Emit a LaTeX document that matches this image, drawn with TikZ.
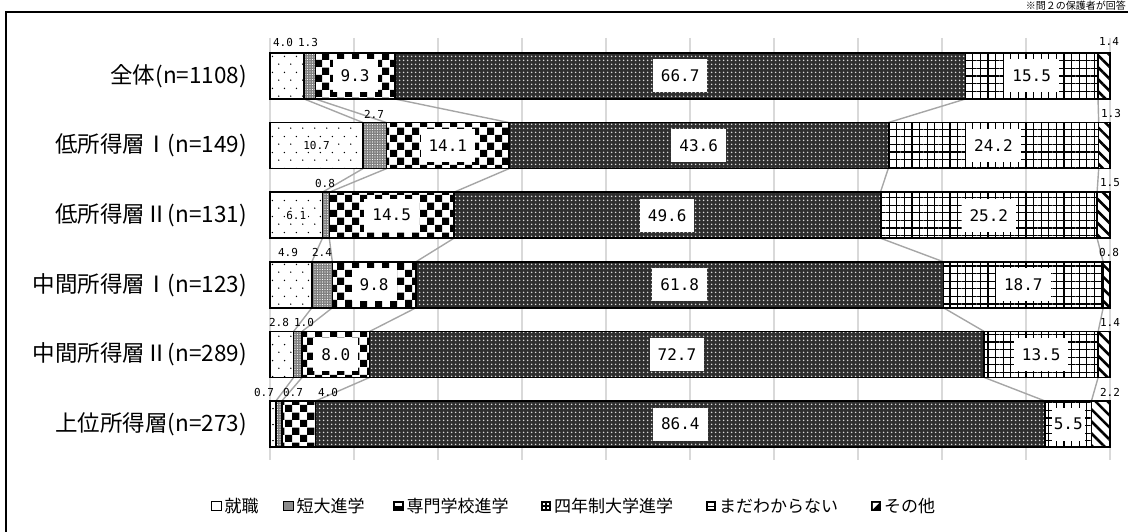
\documentclass[tikz,border=0pt]{standalone}
\usepackage{fontspec}
\setmainfont{Noto Sans CJK JP}
\newfontfamily\numfont{DejaVu Sans Mono}
\usetikzlibrary{patterns.meta,calc}

\tikzdeclarepattern{name=sparsedots, type=uncolored,
  bounding box={(0pt,0pt) and (12pt,16pt)}, tile size={(12pt,16pt)},
  code={\pgfpathcircle{\pgfqpoint{3pt}{4pt}}{0.8pt}\pgfpathcircle{\pgfqpoint{9pt}{12pt}}{0.8pt}\pgfusepath{fill}}}
\tikzdeclarepattern{name=bigchecker, type=uncolored,
  bounding box={(0pt,0pt) and (15pt,15pt)}, tile size={(15pt,15pt)},
  code={\pgfpathrectangle{\pgfqpoint{0pt}{0pt}}{\pgfqpoint{7.5pt}{7.5pt}}\pgfpathrectangle{\pgfqpoint{7.5pt}{7.5pt}}{\pgfqpoint{7.5pt}{7.5pt}}\pgfusepath{fill}}}

\definecolor{gridgray}{HTML}{D9D9D9}
\definecolor{linegray}{HTML}{A6A6A6}

\def\rowdata{0/{全体(n=1108)}/4.0/1.3/9.3/66.7/15.5/1.4,
 1/{低所得層Ⅰ(n=149)}/10.7/2.7/14.1/43.6/24.2/1.3,
 2/{低所得層Ⅱ(n=131)}/6.1/0.8/14.5/49.6/25.2/1.5,
 3/{中間所得層Ⅰ(n=123)}/4.9/2.4/9.8/61.8/18.7/0.8,
 4/{中間所得層Ⅱ(n=289)}/2.8/1.0/8.0/72.7/13.5/1.4,
 5/{上位所得層(n=273)}/0.7/0.7/4.0/86.4/5.5/2.2}

\tikzset{
  seg/.style={draw=black, line width=1.5pt},
  pA/.style={seg, preaction={fill=white}, pattern=sparsedots, pattern color=black},
  pB/.style={seg, preaction={fill=black!50}, pattern={Dots[distance=2.5pt,radius=0.55pt]}, pattern color=white},
  pC/.style={seg, preaction={fill=white}, pattern=bigchecker, pattern color=black},
  pD/.style={seg, preaction={fill=black!82}, pattern={Dots[distance=4pt,radius=1pt]}, pattern color=white!85!black},
  pE/.style={seg, preaction={fill=white}, pattern={Hatch[distance=7.6pt,line width=1.3pt]}, pattern color=black},
  pF/.style={seg, preaction={fill=white}, pattern={Lines[angle=-45,distance=8.5pt,line width=2.6pt]}, pattern color=black},
  gridline/.style={draw=gridgray, line width=1.5pt},
  series/.style={draw=linegray, line width=1.4pt},
  cat/.style={anchor=east, inner sep=0pt, font=\fontsize{22.5}{22.5}\selectfont},
  vin/.style={fill=white, inner xsep=8pt, inner ysep=0pt, minimum height=33pt, font=\numfont\fontsize{16}{16}\selectfont},
  vsm/.style={fill=white, inner sep=1.5pt, font=\numfont\fontsize{11}{11}\selectfont},
  vout/.style={inner sep=0pt, font=\numfont\fontsize{11}{11}\selectfont},
  legicon/.style={minimum size=9.5pt, inner sep=0pt, draw=black, line width=1.2pt},
  legtext/.style={anchor=west, inner sep=0pt, font=\fontsize{17}{17}\selectfont},
}

\begin{document}
\begin{tikzpicture}[x=1pt,y=-1pt]
\useasboundingbox (0,0) rectangle (1128,532);
\clip (0,0) rectangle (1128,532);

% outer frame (partly cut off)
\draw[line width=2pt] (1140,12) -- (6,12) -- (6,545);
\node[anchor=north east, inner sep=0pt, font=\fontsize{10}{10}\selectfont] (note) at (1126,0.8) {※問２の保護者が回答};

% gridlines
\foreach \i in {0,...,10} \draw[gridline] (270+84*\i,38) -- (270+84*\i,460);

% coordinates of segment boundaries and category labels
\foreach \rr/\lab/\va/\vb/\vc/\vd/\ve/\vf in \rowdata {
  \pgfmathsetmacro\T{\va+\vb+\vc+\vd+\ve+\vf}
  \pgfmathsetmacro\yt{53+69.6*\rr}
  \pgfmathsetmacro\yb{\yt+46}
  \pgfmathsetmacro\xa{270+(\va)/\T*840}
  \pgfmathsetmacro\xb{270+(\va+\vb)/\T*840}
  \pgfmathsetmacro\xc{270+(\va+\vb+\vc)/\T*840}
  \pgfmathsetmacro\xd{270+(\va+\vb+\vc+\vd)/\T*840}
  \pgfmathsetmacro\xe{270+(\va+\vb+\vc+\vd+\ve)/\T*840}
  \foreach \k/\xx in {0/270,1/\xa,2/\xb,3/\xc,4/\xd,5/\xe,6/1110}{
    \coordinate (r\rr t\k) at (\xx,\yt);
    \coordinate (r\rr b\k) at (\xx,\yb);
  }
  \node[cat] (cat\rr) at (247,\yt+23) {\lab};
}

% series lines
\foreach \rr in {0,...,4}{
  \pgfmathtruncatemacro\ss{\rr+1}
  \foreach \k in {1,...,5}{\draw[series] (r\rr b\k) -- (r\ss t\k);}
}

% bars
\foreach \rr in {0,...,5}{
  \foreach \j/\k/\p in {0/1/pA,1/2/pB,2/3/pC,3/4/pD,4/5/pE,5/6/pF}{
    \draw[\p] (r\rr t\j) rectangle (r\rr b\k);
  }
}

% inside labels
\node[vin] (v0c) at ($(r0t2)!0.5!(r0b3)$) {9.3};
\node[vin] (v0d) at ($(r0t3)!0.5!(r0b4)$) {66.7};
\node[vin] (v0e) at ($(r0t4)!0.5!(r0b5)$) {15.5};
\node[vsm] (v1a) at ($(r1t0)!0.5!(r1b1)$) {10.7};
\node[vin] (v1c) at ($(r1t2)!0.5!(r1b3)$) {14.1};
\node[vin] (v1d) at ($(r1t3)!0.5!(r1b4)$) {43.6};
\node[vin] (v1e) at ($(r1t4)!0.5!(r1b5)$) {24.2};
\node[vsm] (v2a) at ($(r2t0)!0.5!(r2b1)$) {6.1};
\node[vin] (v2c) at ($(r2t2)!0.5!(r2b3)$) {14.5};
\node[vin] (v2d) at ($(r2t3)!0.5!(r2b4)$) {49.6};
\node[vin] (v2e) at ($(r2t4)!0.5!(r2b5)$) {25.2};
\node[vin] (v3c) at ($(r3t2)!0.5!(r3b3)$) {9.8};
\node[vin] (v3d) at ($(r3t3)!0.5!(r3b4)$) {61.8};
\node[vin] (v3e) at ($(r3t4)!0.5!(r3b5)$) {18.7};
\node[vin] (v4c) at ($(r4t2)!0.5!(r4b3)$) {8.0};
\node[vin] (v4d) at ($(r4t3)!0.5!(r4b4)$) {72.7};
\node[vin] (v4e) at ($(r4t4)!0.5!(r4b5)$) {13.5};
\node[vin] (v5d) at ($(r5t3)!0.5!(r5b4)$) {86.4};
\node[vin, inner xsep=2pt] (v5e) at ($(r5t4)!0.5!(r5b5)$) {5.5};

% labels above bars
\node[vout] (v0a) at (283,42) {4.0};
\node[vout] (v0b) at (308,42) {1.3};
\node[vout] (v0f) at (1109,41) {1.4};
\node[vout] (v1b) at (374,114) {2.7};
\node[vout] (v1f) at (1111,113) {1.3};
\node[vout] (v2b) at (325,183) {0.8};
\node[vout] (v2f) at (1110,183) {1.5};
\node[vout] (v3a) at (288,252) {4.9};
\node[vout] (v3b) at (322,252) {2.4};
\node[vout] (v3f) at (1109,252) {0.8};
\node[vout] (v4a) at (279,322) {2.8};
\node[vout] (v4b) at (304,322) {1.0};
\node[vout] (v4f) at (1110,322) {1.4};
\node[vout] (v5a) at (264,392) {0.7};
\node[vout] (v5b) at (293,392) {0.7};
\node[vout] (v5c) at (328,392) {4.0};
\node[vout] (v5f) at (1110,392) {2.2};

% legend
\node[legicon, fill=white] (k1) at (216.5,506) {};
\node[legtext] (t1) at ($(k1.east)+(2.5,0)$) {就職};
\node[legicon, fill=black!45] (k2) at (288.5,506) {};
\node[legtext] (t2) at ($(k2.east)+(2.5,0)$) {短大進学};
\node[legicon, fill=black] (k3) at (398.5,506) {};
\fill[white] ($(k3.north west)+(2.2,2.2)$) rectangle ($(k3.east)+(-2.2,0)$);
\node[legtext] (t3) at ($(k3.east)+(2.5,0)$) {専門学校進学};
\node[legicon, fill=black] (k4) at (546,506) {};
\fill[white] ($(k4.center)+(-3,-3)$) rectangle ($(k4.center)+(-1,-1)$);
\fill[white] ($(k4.center)+(1,-3)$) rectangle ($(k4.center)+(3,-1)$);
\fill[white] ($(k4.center)+(-3,1)$) rectangle ($(k4.center)+(-1,3)$);
\fill[white] ($(k4.center)+(1,1)$) rectangle ($(k4.center)+(3,3)$);
\node[legtext] (t4) at ($(k4.east)+(2.5,0)$) {四年制大学進学};
\node[legicon, fill=black] (k5) at (711,506) {};
\fill[white] ($(k5.north west)+(2.2,2.2)$) rectangle ($(k5.south east)+(-2.2,-2.2)$);
\draw[black, line width=1pt] ($(k5.west)+(2,0)$) -- ($(k5.east)+(-2,0)$);
\node[legtext] (t5) at ($(k5.east)+(2.5,0)$) {まだわからない};
\node[legicon, fill=black] (k6) at (876,506) {};
\fill[white] ($(k6.north west)+(2.2,2.2)$) -- ($(k6.north east)+(-2.2,2.2)$) -- ($(k6.south west)+(2.2,-2.2)$) -- cycle;
\node[legtext] (t6) at ($(k6.east)+(2.5,0)$) {その他};
\end{tikzpicture}
\end{document}
